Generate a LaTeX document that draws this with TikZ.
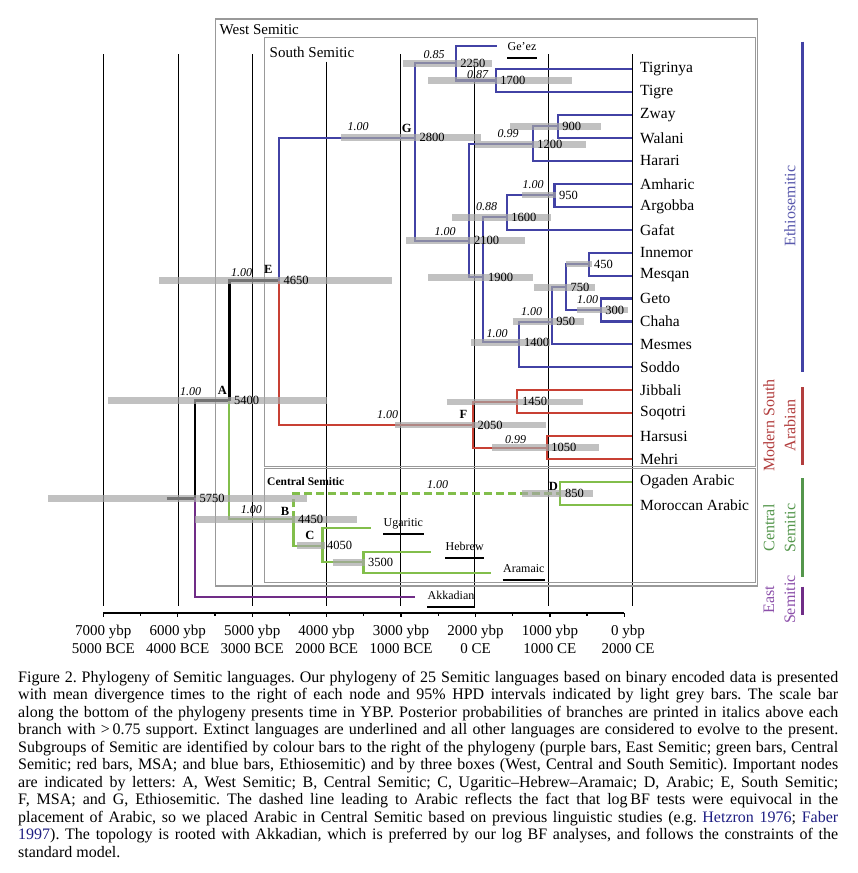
\documentclass[tikz,border=0pt]{standalone}
\usepackage{fontspec}
\setmainfont{Liberation Serif}
\usetikzlibrary{positioning}
\definecolor{ethioblue}{RGB}{66,66,165}
\definecolor{msared}{RGB}{200,64,52}
\definecolor{centgreen}{RGB}{130,190,75}
\definecolor{eastpurple}{RGB}{112,45,135}
\definecolor{ethiolab}{RGB}{88,88,172}
\definecolor{msalab}{RGB}{178,62,62}
\definecolor{centlab}{RGB}{84,150,76}
\definecolor{eastlab}{RGB}{140,80,170}
\definecolor{refblue}{RGB}{30,30,130}
\tikzset{
	gridline/.style={draw=black, line width=0.9pt},
	boxline/.style={draw=black!40, line width=1.1pt},
	boxtitle/.style={anchor=west, inner sep=1pt, font=\fontsize{15}{17}\selectfont},
	stem/.style={draw=black, line width=2.6pt},
	ethiobranch/.style={draw=ethioblue, line width=2.1pt},
	msabranch/.style={draw=msared, line width=2.1pt},
	centbranch/.style={draw=centgreen, line width=2.1pt},
	eastbranch/.style={draw=eastpurple, line width=2.1pt},
	hpd/.style={draw=black!35, draw opacity=0.7, line width=6.5pt},
	age/.style={anchor=west, inner sep=1pt, xshift=3.5pt, font=\fontsize{12.5}{14}\selectfont},
	prob/.style={inner sep=0pt, font=\fontsize{12}{14}\selectfont\itshape},
	nodeletter/.style={inner sep=0pt, font=\fontsize{12.5}{14}\selectfont\bfseries},
	leaf/.style={anchor=west, inner xsep=7.7pt, inner ysep=0pt, font=\fontsize{15.5}{18}\selectfont},
	extinct/.style={anchor=west, inner xsep=0.5pt, inner ysep=0pt, text height=8.5pt, text depth=2.5pt, font=\fontsize{12}{14}\selectfont,
		append after command={([yshift=-5pt]\tikzlastnode.south west) edge[draw=black, line width=1.7pt] ([yshift=-5pt]\tikzlastnode.south east)}},
	groupbar/.style={line width=2.8pt},
	grouplabel/.style={rotate=90, align=center, inner sep=0pt, font=\fontsize{16}{21}\selectfont},
	axisline/.style={draw=black, line width=2.2pt},
	axislabel/.style={align=center, inner sep=0pt, font=\fontsize{15}{18.5}\selectfont},
	caption/.style={anchor=north west, inner sep=0pt, text width=820pt, align=justify, font=\fontsize{16}{17.5}\selectfont},
}

\begin{document}
\begin{tikzpicture}[x=1pt, y=-1pt]
	\useasboundingbox (0,0) rectangle (857,873);
	% time grid
	\foreach \x/\top in {103/54.3, 178.3/54.3, 252.6/54.3, 326.6/61.7, 400.5/54.3, 474.5/61.7, 548.5/54.3, 632.3/54.3}
		\draw[gridline] (\x,\top) -- (\x,606);
	% boxes
	\draw[boxline] (215.7,19) rectangle (757.7,586);
	\draw[boxline] (264.3,37.7) rectangle (755.3,466.3);
	\draw[boxline] (264.3,468.5) rectangle (755.3,582.5);
	\node[boxtitle] (westlbl) at (218.5,29.5) {West Semitic};
	\node[boxtitle] (southlbl) at (268.5,52.5) {South Semitic};
	\node[boxtitle, font=\fontsize{11.5}{13}\selectfont\bfseries] (centrallbl) at (266,481.5) {Central Semitic};

	% living languages
	\foreach \nm/\txt [count=\k from 0] in {tigrinya/Tigrinya, tigre/Tigre, zway/Zway, walani/Walani, harari/Harari, amharic/Amharic, argobba/Argobba, gafat/Gafat, innemor/Innemor, mesqan/Mesqan, geto/Geto, chaha/Chaha, mesmes/Mesmes, soddo/Soddo, jibbali/Jibbali, soqotri/Soqotri, harsusi/Harsusi, mehri/Mehri, ogaden/Ogaden Arabic, moroccan/Moroccan Arabic}
		\node[leaf] (\nm) at (632.3, 69+22.95*\k) {\txt};

	% extinct languages
	\coordinate (geez) at (497,46);
	\coordinate (ugaritic) at (371,528.3);
	\coordinate (hebrew) at (431,551.7);
	\coordinate (aramaic) at (490.5,573.3);
	\coordinate (akkadian) at (415.4,597.3);
	\node[extinct] (geeztxt) at (507,47.5) {Ge’ez};
	\node[extinct] (ugarittxt) at (383,523.5) {Ugaritic};
	\node[extinct] (hebrewtxt) at (445,547.5) {Hebrew};
	\node[extinct] (aramaictxt) at (502.5,569.5) {Aramaic};
	\node[extinct] (akkadiantxt) at (427,596) {Akkadian};

	% internal nodes
	\coordinate (rootbase) at (166.7,498.3);
	\coordinate (n5750) at (195,498.3);
	\coordinate (nA) at (229.3,400.5);
	\coordinate (nE) at (279,280.7);
	\coordinate (nG) at (415,137.7);
	\coordinate (n2250) at (455.7,63.3);
	\coordinate (n1700) at (495.7,80.5);
	\coordinate (n2100) at (469.3,240.7);
	\coordinate (n1200) at (532.7,144.3);
	\coordinate (n900) at (557.7,126.4);
	\coordinate (n1900) at (483.3,277.3);
	\coordinate (n1600) at (506.7,217.3);
	\coordinate (n950a) at (554.5,195.2);
	\coordinate (n1400) at (519.3,342.3);
	\coordinate (n950b) at (551.7,321.7);
	\coordinate (n750) at (566,287.3);
	\coordinate (n450) at (589.3,264.1);
	\coordinate (n300) at (600.7,310);
	\coordinate (nF) at (473,425);
	\coordinate (n1450) at (517.3,401.8);
	\coordinate (n1050) at (546.7,447.7);
	\coordinate (nB) at (293.5,519.3);
	\coordinate (nD) at (560.3,493.6);
	\coordinate (nC) at (322.5,545.7);
	\coordinate (n3500) at (363.5,562.3);

	% backbone
	\draw[stem] (rootbase) -- (n5750);
	\draw[stem] (n5750) |- (nA);
	\draw[stem] (nA) |- (nE);
	\draw[eastbranch] (n5750) |- (akkadian);
	% Ethiosemitic
	\draw[ethiobranch] (nE) |- (nG);
	\draw[ethiobranch] (nG) |- (n2250);
	\draw[ethiobranch] (nG) |- (n2100);
	\draw[ethiobranch] (n2250) |- (geez);
	\draw[ethiobranch] (n2250) |- (n1700);
	\draw[ethiobranch] (n1700) |- (tigrinya);
	\draw[ethiobranch] (n1700) |- (tigre);
	\draw[ethiobranch] (n2100) |- (n1200);
	\draw[ethiobranch] (n2100) |- (n1900);
	\draw[ethiobranch] (n1200) |- (n900);
	\draw[ethiobranch] (n1200) |- (harari);
	\draw[ethiobranch] (n900) |- (zway);
	\draw[ethiobranch] (n900) |- (walani);
	\draw[ethiobranch] (n1900) |- (n1600);
	\draw[ethiobranch] (n1900) |- (n1400);
	\draw[ethiobranch] (n1600) |- (n950a);
	\draw[ethiobranch] (n1600) |- (gafat);
	\draw[ethiobranch] (n950a) |- (amharic);
	\draw[ethiobranch] (n950a) |- (argobba);
	\draw[ethiobranch] (n1400) |- (n950b);
	\draw[ethiobranch] (n1400) |- (soddo);
	\draw[ethiobranch] (n950b) |- (n750);
	\draw[ethiobranch] (n950b) |- (mesmes);
	\draw[ethiobranch] (n750) |- (n450);
	\draw[ethiobranch] (n750) |- (n300);
	\draw[ethiobranch] (n450) |- (innemor);
	\draw[ethiobranch] (n450) |- (mesqan);
	\draw[ethiobranch] (n300) |- (geto);
	\draw[ethiobranch] (n300) |- (chaha);
	% MSA
	\draw[msabranch] (nE) |- (nF);
	\draw[msabranch] (nF) |- (n1450);
	\draw[msabranch] (nF) |- (n1050);
	\draw[msabranch] (n1450) |- (jibbali);
	\draw[msabranch] (n1450) |- (soqotri);
	\draw[msabranch] (n1050) |- (harsusi);
	\draw[msabranch] (n1050) |- (mehri);
	% Central Semitic
	\draw[centbranch] (nA) |- (nB);
	\draw[centbranch, line width=3.2pt, dash pattern=on 8pt off 4pt] (nB) |- (nD);
	\draw[centbranch] (nD) |- (ogaden);
	\draw[centbranch] (nD) |- (moroccan);
	\draw[centbranch] (nB) |- (nC);
	\draw[centbranch] (nC) |- (ugaritic);
	\draw[centbranch] (nC) |- (n3500);
	\draw[centbranch] (n3500) |- (hebrew);
	\draw[centbranch] (n3500) |- (aramaic);

	% 95% HPD bars
	\foreach \n/\l/\r in {n5750/48/306.7, nA/108/327.2, nE/159.3/391.7, nG/341/480.7, n2250/403.3/491.7, n1700/428/571.7, n2100/406/525, n1200/475/585.7, n900/510/600.7, n1900/428.3/533.3, n1600/452/550.7, n950a/522.3/556, n1400/471/550, n950b/512.7/584.3, n750/534.3/595, n450/566/592, n300/577.3/627.7, nF/395/546, n1450/446.7/583.3, n1050/492.3/599, nB/195.2/357.3, nD/521.7/593.3, nC/296.7/325, n3500/332.7/365}
		\draw[hpd] (\l,0 |- \n) -- (\r,0 |- \n);

	% divergence times
	\foreach \n/\t in {n5750/5750, nA/5400, nE/4650, nG/2800, n2250/2250, n1700/1700, n2100/2100, n1200/1200, n900/900, n1900/1900, n1600/1600, n950a/950, n1400/1400, n950b/950, n750/750, n450/450, n300/300, nF/2050, n1450/1450, n1050/1050, nB/4450, nD/850, nC/4050, n3500/3500}
		\node[age] (\n-age) at (\n) {\t};

	% posterior probabilities
	\foreach \x/\y/\p [count=\i] in {434/55/0.85, 477.5/74.5/0.87, 358/126.7/1.00, 508/134/0.99, 533/185/1.00, 486.7/206.7/0.88, 445/231.7/1.00, 531.7/311.7/1.00, 587.7/300/1.00, 497/333.3/1.00, 241.7/272.7/1.00, 190.5/391.7/1.00, 387.5/415/1.00, 515.5/440/0.99, 437.5/484.5/1.00, 251.3/509.3/1.00}
		\node[prob] (prob\i) at (\x,\y) {\p};

	% important nodes
	\foreach \l/\x/\y in {A/222.3/390, B/285/511.7, C/310/535, D/553.3/486, E/268.3/269.3, F/463.5/414.3, G/406.7/128.3}
		\node[nodeletter] (let\l) at (\x,\y) {\l};

	% subgroup bars
	\draw[groupbar, draw=ethioblue] (802.3,41.5) -- (802.3,371.5);
	\draw[groupbar, draw=msalab] (802.3,387) -- (802.3,465.4);
	\draw[groupbar, draw=centlab] (802.3,478) -- (802.3,577);
	\draw[groupbar, draw=eastpurple] (802.3,586.5) -- (802.3,614.6);
	\node[grouplabel, text=ethiolab] (ethiolbl) at (790,206) {Ethiosemitic};
	\node[grouplabel, text=msalab] (msalbl) at (779.5,425.5) {Modern South\\Arabian};
	\node[grouplabel, text=centlab] (centlbl) at (779.5,528) {Central\\Semitic};
	\node[grouplabel, text=eastlab] (eastlbl) at (779.5,599.5) {East\\Semitic};

	% scale bar
	\coordinate (axisstart) at (103.3,613.3);
	\coordinate (axisend) at (624.3,613.3);
	\draw[axisline] (axisstart) -- (axisend);
	\foreach \i in {0,...,7}
		\draw[line width=1.3pt] (103.3+74.43*\i,613.3) -- ++(0,4);
	\foreach \i in {0,...,6}
		\draw[line width=1.3pt] (140.5+74.43*\i,613.3) -- ++(0,2.5);
	\foreach \x/\a/\b in {103.3/7000/5000 BCE, 177.7/6000/4000 BCE, 252.2/5000/3000 BCE, 326.6/4000/2000 BCE, 401/3000/1000 BCE, 475.5/2000/0 CE, 549.9/1000/1000 CE, 628/0/2000 CE}
		\node[axislabel] (ax\a) at (\x,639.5) {\a\ ybp\\\b};

	% caption
	\node[caption] (cap) at (18,671) {\frenchspacing\hyphenpenalty=10000\exhyphenpenalty=10000\tolerance=10000
		Figure 2. Phylogeny of Semitic languages. Our phylogeny of 25 Semitic languages based on binary encoded data is presented\linebreak
		with mean divergence times to the right of each node and 95\% HPD intervals indicated by light grey bars. The scale bar\linebreak
		along the bottom of the phylogeny presents time in YBP. Posterior probabilities of branches are printed in italics above each\linebreak
		branch with >\,0.75 support. Extinct languages are underlined and all other languages are considered to evolve to the present.\linebreak
		Subgroups of Semitic are identified by colour bars to the right of the phylogeny (purple bars, East Semitic; green bars, Central\linebreak
		Semitic; red bars, MSA; and blue bars, Ethiosemitic) and by three boxes (West, Central and South Semitic). Important nodes\linebreak
		are indicated by letters: A, West Semitic; B, Central Semitic; C, Ugaritic–Hebrew–Aramaic; D, Arabic; E, South Semitic;\linebreak
		F, MSA; and G, Ethiosemitic. The dashed line leading to Arabic reflects the fact that log\,BF tests were equivocal in the\linebreak
		placement of Arabic, so we placed Arabic in Central Semitic based on previous linguistic studies (e.g. \textcolor{refblue}{Hetzron 1976}; \textcolor{refblue}{Faber}\linebreak
		\textcolor{refblue}{1997}). The topology is rooted with Akkadian, which is preferred by our log BF analyses, and follows the constraints of the\linebreak
		standard model.};
\end{tikzpicture}
\end{document}
